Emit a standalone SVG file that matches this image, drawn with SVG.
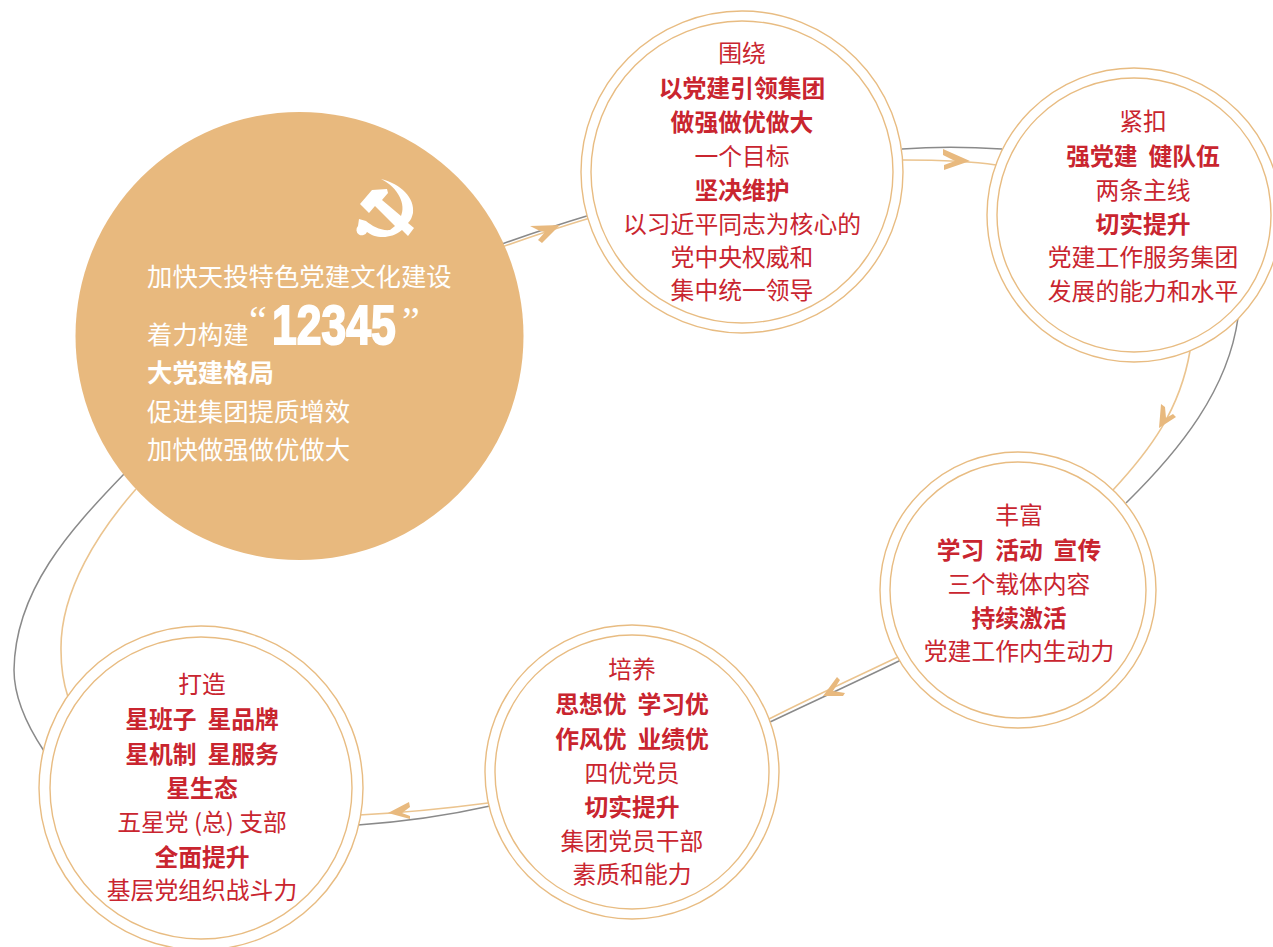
<svg xmlns="http://www.w3.org/2000/svg" width="1273" height="947" viewBox="0 0 1273 947">
<style>
.ring{fill:#fff;stroke:#e8bc82;stroke-width:1.4}
.gl{fill:none;stroke:#8a8a8a;stroke-width:1.5}
.ol{fill:none;stroke:#ebc48f;stroke-width:1.6}
.ah{fill:#e8b97e}
text{font-family:"Noto Sans CJK SC","Noto Sans",sans-serif;font-size:23.8px;text-anchor:middle;fill:#c9252f;font-weight:400;white-space:pre}
text.b{font-weight:700}
.w text{fill:#fff;text-anchor:start;font-size:25.4px;font-weight:400}
.w text.b{font-weight:700}
</style>
<rect width="1273" height="947" fill="#fff"/>
<g id="connectors">
<path class="gl" d="M502 244C530 234 560 224 590 215"/>
<path class="ol" d="M502 247C530 237 560 227 590 218"/>
<path class="ah" d="M530 226L540 231L545 232L538 240L542 243L560 225Z"/>
<path class="gl" d="M902 149C930 147 970 147 1002 149"/>
<path class="ol" d="M903 160C930 160 970 161 996 165"/>
<path class="ah" d="M943 149L970 161L944 170L944 165L955 161L943 155Z"/>
<path class="gl" d="M1238 318C1228 390 1180 450 1126 503"/>
<path class="ol" d="M1190 351C1180 410 1150 450 1113 490"/>
<path class="ah" d="M1159 428L1161 404L1165 407L1166 418L1173 414L1176 417Z"/>
<path class="gl" d="M901 660C860 680 810 703 770 722"/>
<path class="ol" d="M898 657C860 675 810 698 769 719"/>
<path class="ah" d="M823 696L837 677L840 680L833 691L845 693L843 696Z"/>
<path class="gl" d="M490 806C450 815 400 822 358 825"/>
<path class="ol" d="M488 803C450 808 400 813 359 815"/>
<path class="ah" d="M388 813L409 802L410 807L402 813L410 816L410 819Z"/>
<path class="gl" d="M124 474C70 530 15 590 14 670C14 700 30 730 44 751"/>
<path class="ol" d="M136 489C100 530 60 590 61 650C61 670 64 685 68 697"/>
</g>
<g id="node-center">
<circle cx="299.500" cy="336" r="224" fill="#e8b97e"/>
<path fill="#fff" d="M381 179C401 184 415 198 413 213C412 217 411 220 408 223L414 228L408 236L402 230C396 235 389 237 383 237C376 237 371 235 367 232A5.500 5.500 0 1 1 358 226L359 219L366 221C372 226 381 231 390 230L395 226L375 206L369 213L360 204L372 190L387 189L388 193L382 200L401 216C406 205 399 188 381 179Z"/>
<g class="w">
<text x="147" y="286">加快天投特色党建文化建设</text>
<text x="147" y="344">着力构建</text>
<text x="249" y="334" style="font-family:'Liberation Serif',serif;font-size:40px">“</text>
<text transform="translate(272 344) scale(.795 1)" style="font-family:'Liberation Sans',sans-serif;font-size:56px;font-weight:700;stroke:#fff;stroke-width:2">12345</text>
<text x="402" y="334" style="font-family:'Liberation Serif',serif;font-size:40px">”</text>
<text class="b" x="147" y="382">大党建格局</text>
<text x="147" y="421">促进集团提质增效</text>
<text x="147" y="459">加快做强做优做大</text>
</g>
</g>
<g id="node-top">
<circle class="ring" cx="742" cy="172" r="161"/><circle class="ring" cx="742" cy="172" r="151"/>
<text x="742" y="62">围绕</text>
<text class="b" x="742" y="97">以党建引领集团</text>
<text class="b" x="742" y="131">做强做优做大</text>
<text x="742" y="165">一个目标</text>
<text class="b" x="742" y="199">坚决维护</text>
<text x="742" y="233">以习近平同志为核心的</text>
<text x="742" y="266">党中央权威和</text>
<text x="742" y="299">集中统一领导</text>
</g>
<g id="node-right">
<circle class="ring" cx="1134" cy="215" r="147"/><circle class="ring" cx="1134" cy="215" r="137"/>
<text x="1143" y="130">紧扣</text>
<text class="b" x="1143" y="165">强党建  健队伍</text>
<text x="1143" y="199">两条主线</text>
<text class="b" x="1143" y="233">切实提升</text>
<text x="1143" y="266">党建工作服务集团</text>
<text x="1143" y="300">发展的能力和水平</text>
</g>
<g id="node-midright">
<circle class="ring" cx="1018" cy="590" r="138"/><circle class="ring" cx="1018" cy="590" r="128"/>
<text x="1019" y="524">丰富</text>
<text class="b" x="1019" y="559">学习  活动  宣传</text>
<text x="1019" y="593">三个载体内容</text>
<text class="b" x="1019" y="627">持续激活</text>
<text x="1019" y="660">党建工作内生动力</text>
</g>
<g id="node-bottom">
<circle class="ring" cx="632" cy="772" r="147"/><circle class="ring" cx="632" cy="772" r="137"/>
<text x="632" y="678">培养</text>
<text class="b" x="632" y="713">思想优  学习优</text>
<text class="b" x="632" y="748">作风优  业绩优</text>
<text x="632" y="782">四优党员</text>
<text class="b" x="632" y="816">切实提升</text>
<text x="632" y="850">集团党员干部</text>
<text x="632" y="883">素质和能力</text>
</g>
<g id="node-left">
<circle class="ring" cx="201" cy="788" r="162"/><circle class="ring" cx="201" cy="788" r="151"/>
<text x="202" y="693">打造</text>
<text class="b" x="202" y="728">星班子  星品牌</text>
<text class="b" x="202" y="763">星机制  星服务</text>
<text class="b" x="202" y="797">星生态</text>
<text x="202" y="831">五星党 (总) 支部</text>
<text class="b" x="202" y="866">全面提升</text>
<text x="202" y="899">基层党组织战斗力</text>
</g>
</svg>
